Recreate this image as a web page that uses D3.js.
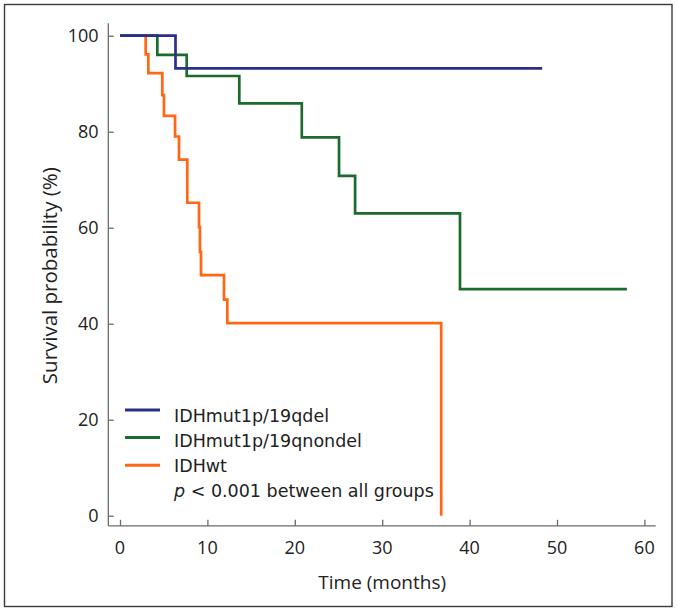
<!DOCTYPE html>
<html>
<head>
<meta charset="utf-8">
<script src="https://cdn.jsdelivr.net/npm/d3@7"></script>
<style>
  html, body { margin: 0; padding: 0; background: #fff; }
  svg { display: block; }
</style>
</head>
<body>
<svg id="chart" width="677" height="612"></svg>
<script>
// ---- data ----
const seriesNames = ["IDHmut1p/19qdel", "IDHmut1p/19qnondel", "IDHwt"];
const seriesColors = ["#2b2f8c", "#1c6a2c", "#ff6714"];

const delTimes = [0, 6.35, 48.3];
const delSurv  = [100, 93.2, 93.2];

const nondelTimes = [0, 4.27, 7.63, 13.65, 20.8, 25.06, 26.9, 38.9, 58.0];
const nondelSurv  = [100, 96.0, 91.6, 85.9, 78.8, 70.8, 63.0, 47.2, 47.2];

const wtTimes = [0, 2.94, 3.24, 4.84, 5.03, 6.3, 6.75, 7.7, 9.04, 9.15, 9.27, 11.9, 12.28, 36.75, 36.75];
const wtSurv  = [100, 96.1, 92.2, 87.6, 83.3, 79.0, 74.2, 65.2, 60.1, 54.9, 50.1, 45.0, 40.1, 40.1, 0];

const xTicks = [0, 10, 20, 30, 40, 50, 60];
const yTicks = [0, 20, 40, 60, 80, 100];
const xTitle = "Time (months)";
const yTitle = "Survival probability (%)";
const pText = "< 0.001 between all groups";

// ---- layout ----
const svg = d3.select("#chart");
const x = d3.scaleLinear().domain([0, 60]).range([120, 644.4]);
const y = d3.scaleLinear().domain([0, 100]).range([515.7, 35.7]);
const axisLeftX = 108.3, axisBottomY = 525.8;
const axisColor = "#6b6b6b";
const tickFont = "'Open Sans', sans-serif";
const legendFont = "'DejaVu Sans', sans-serif";

// frame
svg.append("rect")
  .attr("x", 4.5).attr("y", 4.5).attr("width", 667.5).attr("height", 602)
  .attr("fill", "none").attr("stroke", "#3a3a3a").attr("stroke-width", 1.4);

// y axis
const yAxis = d3.axisRight(y).tickValues(yTicks).tickSize(5.5).tickFormat("");
const gy = svg.append("g").attr("transform", `translate(${axisLeftX},0)`).call(yAxis);
gy.select(".domain").remove();
gy.selectAll(".tick line").attr("stroke", axisColor).attr("stroke-width", 1.3);
svg.append("line").attr("x1", axisLeftX).attr("x2", axisLeftX).attr("y1", 23.3).attr("y2", axisBottomY)
  .attr("stroke", axisColor).attr("stroke-width", 1.3);
svg.append("g").selectAll("text").data(yTicks).join("text")
  .attr("x", 98.6).attr("y", d => y(d)).attr("dy", "0.36em")
  .attr("text-anchor", "end").attr("font-family", tickFont).attr("font-size", 18)
  .attr("fill", "#222").text(d => d);

// x axis
const xAxis = d3.axisTop(x).tickValues(xTicks).tickSize(6).tickFormat("");
const gx = svg.append("g").attr("transform", `translate(0,${axisBottomY})`).call(xAxis);
gx.select(".domain").remove();
gx.selectAll(".tick line").attr("stroke", axisColor).attr("stroke-width", 1.3);
svg.append("line").attr("x1", axisLeftX).attr("x2", 655.7).attr("y1", axisBottomY).attr("y2", axisBottomY)
  .attr("stroke", axisColor).attr("stroke-width", 1.3);
svg.append("g").selectAll("text").data(xTicks).join("text")
  .attr("x", d => x(d)).attr("y", 554)
  .attr("text-anchor", "middle").attr("font-family", tickFont).attr("font-size", 18)
  .attr("fill", "#222").text(d => d);

// titles
svg.append("text").attr("x", x(30)).attr("y", 588.5).attr("text-anchor", "middle")
  .attr("font-family", tickFont).attr("font-size", 19).attr("fill", "#222").text(xTitle);
svg.append("text").attr("transform", `translate(57,${y(50)}) rotate(-90)`).attr("text-anchor", "middle")
  .attr("font-family", tickFont).attr("font-size", 20.5).attr("fill", "#222").text(yTitle);

// curves
const line = d3.line().x(d => x(d[0])).y(d => y(d[1])).curve(d3.curveStepAfter);
const series = [
  d3.zip(delTimes, delSurv),
  d3.zip(nondelTimes, nondelSurv),
  d3.zip(wtTimes, wtSurv)
];
[2, 1, 0].forEach(i => {
  svg.append("path").datum(series[i]).attr("d", line)
    .attr("fill", "none").attr("stroke", seriesColors[i]).attr("stroke-width", 2.7)
    .attr("stroke-linejoin", "miter").attr("stroke-linecap", "butt");
});

// legend
const legLineY = [410, 437.6, 465.3];
const legTextY = [421.5, 446.8, 472.3];
const lg = svg.append("g");
seriesNames.forEach((name, i) => {
  lg.append("line").attr("x1", 125).attr("x2", 160).attr("y1", legLineY[i]).attr("y2", legLineY[i])
    .attr("stroke", seriesColors[i]).attr("stroke-width", 3);
  lg.append("text").attr("x", 174).attr("y", legTextY[i])
    .attr("font-family", legendFont).attr("font-size", 17.5).attr("fill", "#222").text(name);
});
const pt = lg.append("text").attr("x", 174).attr("y", 497)
  .attr("font-family", legendFont).attr("font-size", 17.5).attr("fill", "#222");
pt.append("tspan").attr("font-style", "italic").text("p");
pt.append("tspan").text(" " + pText);
</script>
</body>
</html>
